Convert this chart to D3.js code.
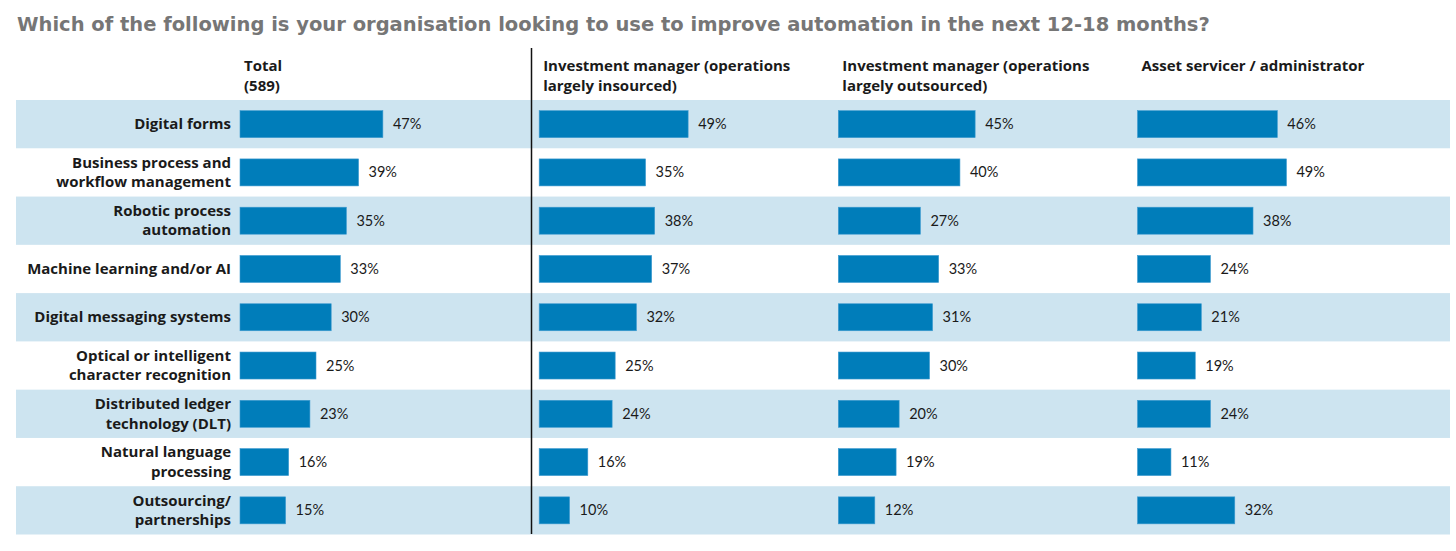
<!DOCTYPE html>
<html>
<head>
  <meta charset="utf-8">
  <script src="https://d3js.org/d3.v7.min.js"></script>
  <style>
    body { margin: 0; background: #fff; }
    text { font-family: "Lato", "Open Sans", sans-serif; }
  </style>
</head>
<body>
<script>
  "use strict";

  // data
  var categories = [
    "Digital forms",
    "Business process and|workflow management",
    "Robotic process|automation",
    "Machine learning and/or AI",
    "Digital messaging systems",
    "Optical or intelligent|character recognition",
    "Distributed ledger|technology (DLT)",
    "Natural language|processing",
    "Outsourcing/|partnerships"
  ];
  var groups = [
    "Total|(589)",
    "Investment manager (operations|largely insourced)",
    "Investment manager (operations|largely outsourced)",
    "Asset servicer / administrator"
  ];
  var totalVals      = [47, 39, 35, 33, 30, 25, 23, 16, 15];
  var insourcedVals  = [49, 35, 38, 37, 32, 25, 24, 16, 10];
  var outsourcedVals = [45, 40, 27, 33, 31, 30, 20, 19, 12];
  var servicerVals   = [46, 49, 38, 24, 21, 19, 24, 11, 32];
  var series = [totalVals, insourcedVals, outsourcedVals, servicerVals];

  var width = 1456, height = 551;
  var svg = d3.select("body").append("svg")
      .attr("width", width)
      .attr("height", height);

  svg.append("text")
      .attr("x", 17)
      .attr("y", 31)
      .style("font-family", "'DejaVu Sans', Verdana, sans-serif")
      .style("font-weight", "bold")
      .style("font-size", "19.5px")
      .style("fill", "#767676")
      .text("Which of the following is your organisation looking to use to improve automation in the next 12-18 months?");

  var y = d3.scaleBand()
      .domain(categories)
      .range([100, 534.5])
      .paddingInner(0);

  // column start positions
  var colX = d3.scalePoint()
      .domain(groups)
      .range([240, 1137.5]);

  var x = d3.scaleLinear().domain([0, 10]).range([0, 30.4]);

  // light blue row bands on every other row
  svg.selectAll("rect.band")
    .data(categories.filter(function(d, i) { return i % 2 === 0; }))
    .enter().append("rect")
      .attr("class", "band")
      .attr("x", 16)
      .attr("y", function(d) { return y(d); })
      .attr("width", 1434)
      .attr("height", y.bandwidth())
      .style("fill", "#cde4f0");

  var boldFont = "'Open Sans', Lato, sans-serif";

  // category labels
  categories.forEach(function(c) {
    var lines = c.split("|");
    var cy = y(c) + y.bandwidth() / 2;
    var t = svg.append("text")
        .attr("text-anchor", "end")
        .style("font-family", boldFont)
        .style("font-weight", "bold")
        .style("font-size", "15px")
        .style("fill", "#1a1a1a");
    lines.forEach(function(l, i) {
      t.append("tspan")
        .attr("x", 231)
        .attr("y", cy + 5 + (i - (lines.length - 1) / 2) * 19.5)
        .text(l);
    });
  });

  // column headers
  groups.forEach(function(g) {
    var lines = g.split("|");
    var t = svg.append("text")
        .style("font-family", boldFont)
        .style("font-weight", "bold")
        .style("font-size", "15px")
        .style("fill", "#1a1a1a");
    lines.forEach(function(l, i) {
      t.append("tspan")
        .attr("x", colX(g) + 4)
        .attr("y", 71 + i * 20)
        .text(l);
    });
  });

  // divider
  svg.append("line")
      .attr("x1", 531.5).attr("x2", 531.5)
      .attr("y1", 48).attr("y2", 534)
      .style("stroke", "#111")
      .style("stroke-width", 1.5);

  var barH = 27;
  series.forEach(function(vals, gi) {
    var x0 = colX(groups[gi]);
    var g = svg.append("g");
    g.selectAll("rect")
      .data(vals)
      .enter().append("rect")
        .attr("x", x0)
        .attr("y", function(d, i) { return y(categories[i]) + (y.bandwidth() - barH) / 2; })
        .attr("width", function(d) { return x(d); })
        .attr("height", barH)
        .style("fill", "#007dba")
        .style("stroke", "#3e9bd0")
        .style("stroke-width", 0.6);
    g.selectAll("text")
      .data(vals)
      .enter().append("text")
        .attr("x", function(d) { return x0 + x(d) + 10; })
        .attr("y", function(d, i) { return y(categories[i]) + y.bandwidth() / 2 + 5; })
        .style("font-size", "14.5px")
        .style("fill", "#1a1a1a")
        .text(function(d) { return d + "%"; });
  });
</script>
</body>
</html>
